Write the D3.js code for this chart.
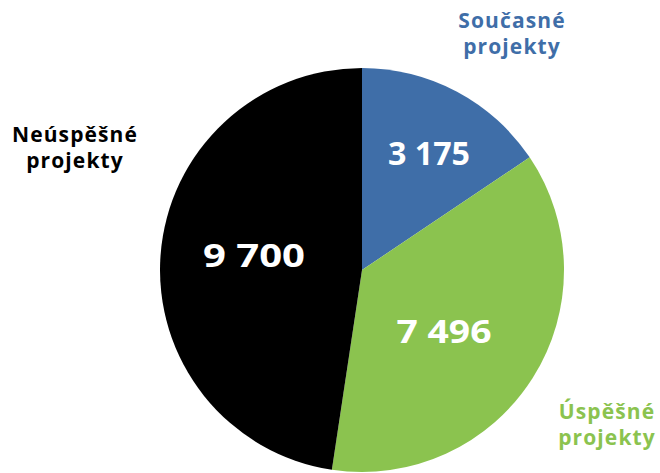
<!DOCTYPE html>
<html>
<head>
<meta charset="utf-8">
<script src="https://cdn.jsdelivr.net/npm/d3@7"></script>
<style>
  html, body { margin: 0; padding: 0; background: #fff; }
  svg { display: block; }
  text { font-family: "Open Sans", "DejaVu Sans", sans-serif; font-weight: 700; }
</style>
</head>
<body>
<svg id="chart" width="660" height="473"></svg>
<script>
// Project counts by status
const categories = ["Současné projekty", "Úspěšné projekty", "Neúspěšné projekty"];
const values = [3175, 7496, 9700];
const valueLabels = ["3 175", "7 496", "9 700"];
const colors = ["#3f6ea8", "#8bc34f", "#000000"];

const cx = 362, cy = 270, radius = 202;

const svg = d3.select("#chart");
const g = svg.append("g").attr("transform", `translate(${cx},${cy})`);

const data = categories.map((c, i) => ({ name: c, value: values[i], label: valueLabels[i], color: colors[i] }));

const pie = d3.pie().value(d => d.value).sort(null);
const arc = d3.arc().innerRadius(0).outerRadius(radius);
const arcs = pie(data);

g.selectAll("path.slice")
  .data(arcs)
  .join("path")
  .attr("class", "slice")
  .attr("d", arc)
  .attr("fill", d => d.data.color);

// value labels inside slices (offsets from centre, rendered width)
const innerPos = [[67, -105], [82, 73], [-108, -3]];
const innerWidth = [82, 95, 102];
g.selectAll("text.val")
  .data(arcs)
  .join("text")
  .attr("class", "val")
  .attr("x", (d, i) => innerPos[i][0])
  .attr("y", (d, i) => innerPos[i][1])
  .attr("text-anchor", "middle")
  .attr("font-size", 33)
  .attr("textLength", (d, i) => innerWidth[i])
  .attr("lengthAdjust", "spacingAndGlyphs")
  .attr("fill", "#fff")
  .text(d => d.data.label);

// outer category labels, two lines each
const outerPos = [[512, 28], [607, 419], [75, 142]];
const labelColors = ["#3f6ea8", "#8bc34f", "#000000"];
const outer = svg.selectAll("text.cat")
  .data(data)
  .join("text")
  .attr("class", "cat")
  .attr("text-anchor", "middle")
  .attr("font-size", 21)
  .attr("letter-spacing", 1.1)
  .attr("fill", (d, i) => labelColors[i])
  .attr("transform", (d, i) => `translate(${outerPos[i][0]},${outerPos[i][1]})`);

outer.each(function(d) {
  const parts = d.name.split(" ");
  const t = d3.select(this);
  parts.forEach((p, j) => {
    t.append("tspan").attr("x", 0).attr("y", j * 26).text(p);
  });
});
</script>
</body>
</html>
